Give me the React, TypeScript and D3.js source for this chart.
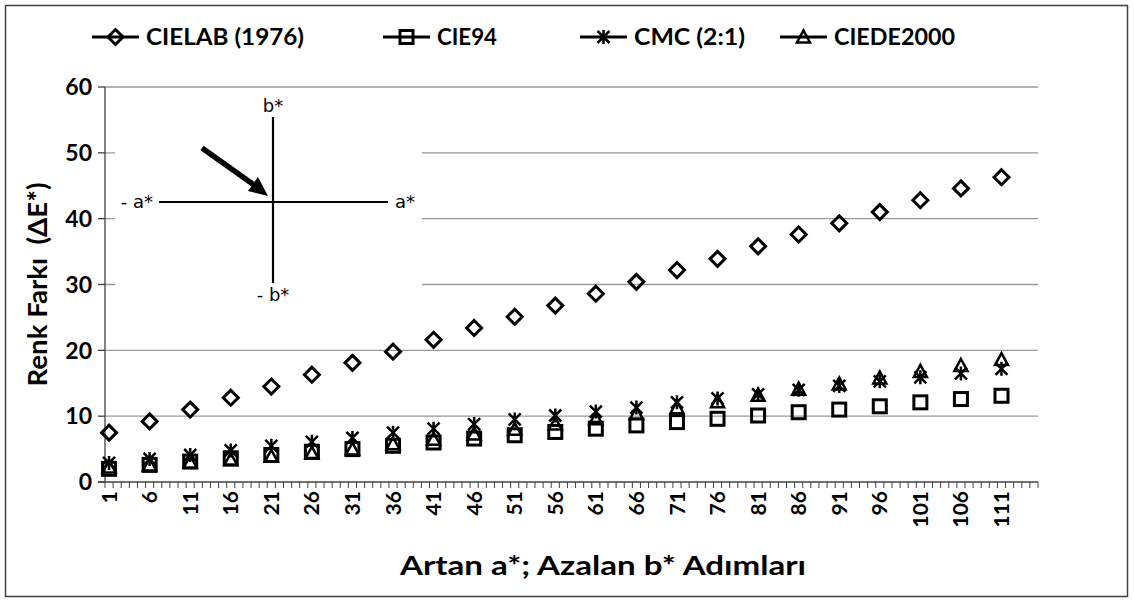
import * as d3 from "d3";

// step axis: 115 steps, labels every 5th step
const stepCount = 115;
const stepLabels = ["1", "6", "11", "16", "21", "26", "31", "36", "41", "46", "51", "56", "61", "66", "71", "76", "81", "86", "91", "96", "101", "106", "111"];
const sampledSteps = [1, 6, 11, 16, 21, 26, 31, 36, 41, 46, 51, 56, 61, 66, 71, 76, 81, 86, 91, 96, 101, 106, 111];
const yTicks = [0, 10, 20, 30, 40, 50, 60];

const cielab = [7.5, 9.2, 11.0, 12.8, 14.5, 16.3, 18.1, 19.8, 21.6, 23.4, 25.1, 26.8, 28.6, 30.4, 32.2, 33.9, 35.8, 37.6, 39.3, 41.0, 42.8, 44.6, 46.3];
const cie94 = [2.0, 2.6, 3.1, 3.6, 4.1, 4.6, 5.0, 5.5, 6.0, 6.6, 7.1, 7.6, 8.1, 8.6, 9.1, 9.6, 10.1, 10.6, 11.0, 11.5, 12.1, 12.6, 13.1];
const cmc = [2.9, 3.5, 4.1, 4.8, 5.5, 6.1, 6.7, 7.5, 8.1, 8.8, 9.5, 10.1, 10.7, 11.3, 12.1, 12.7, 13.3, 14.0, 14.6, 15.3, 15.9, 16.5, 17.2];
const ciede2000 = [2.3, 2.6, 3.0, 3.4, 3.9, 4.4, 5.0, 5.8, 6.5, 7.3, 8.0, 8.8, 9.6, 10.4, 11.3, 12.2, 13.2, 14.1, 14.9, 15.8, 16.8, 17.7, 18.6];

type Shape = "diamond" | "square" | "star" | "triangle";
const seriesNames = ["CIELAB (1976)", "CIE94", "CMC (2:1)", "CIEDE2000"];
const seriesShapes: Shape[] = ["diamond", "square", "star", "triangle"];
const seriesValues = [cielab, cie94, cmc, ciede2000];

const W = 1134;
const H = 601;
const plot = { left: 105, right: 1038, top: 87, bottom: 482 };
const labelFont = "Lato, 'Open Sans', sans-serif";

const Marker = ({ shape, x, y }: { shape: Shape; x: number; y: number }) => {
  const common = { fill: "none", stroke: "#000", strokeWidth: 3 };
  if (shape === "diamond") {
    const r = 7.5;
    return <path d={`M${x},${y - r}L${x + r},${y}L${x},${y + r}L${x - r},${y}Z`} {...common} />;
  }
  if (shape === "square") {
    const s = 6.5;
    return <rect x={x - s} y={y - s} width={s * 2} height={s * 2} {...common} />;
  }
  if (shape === "triangle") {
    const r = 6.5;
    return <path d={`M${x},${y - r}L${x + r},${y + r * 0.85}L${x - r},${y + r * 0.85}Z`} {...common} strokeWidth={2.5} />;
  }
  const r = 6;
  return (
    <path
      d={`M${x - r},${y - r}L${x + r},${y + r}M${x + r},${y - r}L${x - r},${y + r}M${x},${y - r - 1}L${x},${y + r + 1}`}
      {...common}
      strokeWidth={2.5}
    />
  );
};

export default function App() {
  const x = d3
    .scaleBand<number>()
    .domain(d3.range(1, stepCount + 1))
    .range([plot.left, plot.right]);
  const y = d3.scaleLinear().domain([0, 60]).range([plot.bottom, plot.top]);
  const cx = (s: number) => (x(s) ?? 0) + x.bandwidth() / 2;

  const boundaries = d3.range(0, stepCount + 1).map((i) => plot.left + i * x.bandwidth());

  // legend layout
  const legendX = [92, 383, 580, 780];
  const legendText = [158, 60, 111, 121];
  const legendY = 37;

  // inset (colour axes diagram)
  const inset = { cx: 273, cy: 202, left: 159, right: 388, top: 117, bottom: 283 };

  return (
    <svg width={W} height={H} style={{ position: "absolute", left: 0, top: 0, background: "#fff" }}>
      <rect x={5.5} y={5.5} width={1122} height={591} fill="#fff" stroke="#404040" strokeWidth={1.5} />

      {/* legend */}
      {seriesNames.map((name, i) => (
        <g key={name}>
          <line x1={legendX[i]} x2={legendX[i] + 47} y1={legendY} y2={legendY} stroke="#000" strokeWidth={3} />
          <Marker shape={seriesShapes[i]} x={legendX[i] + 23.5} y={legendY} />
          <text
            x={legendX[i] + 54}
            y={legendY}
            dy="0.36em"
            fontFamily={labelFont}
            fontWeight="bold"
            fontSize={23}
            textLength={legendText[i]}
            lengthAdjust="spacingAndGlyphs"
          >
            {name}
          </text>
        </g>
      ))}

      {/* grid */}
      {yTicks.filter((t) => t > 0).map((t) => (
        <line key={t} x1={plot.left} x2={plot.right} y1={y(t)} y2={y(t)} stroke="#9a9a9a" strokeWidth={1.3} />
      ))}

      {/* y axis */}
      <line x1={plot.left} x2={plot.left} y1={plot.top} y2={plot.bottom} stroke="#404040" strokeWidth={1.3} />
      {yTicks.map((t) => (
        <g key={t}>
          <line x1={plot.left - 7} x2={plot.left} y1={y(t)} y2={y(t)} stroke="#404040" strokeWidth={1.3} />
          <text
            x={plot.left - 13}
            y={y(t)}
            dy="0.36em"
            textAnchor="end"
            fontFamily={labelFont}
            fontWeight="bold"
            fontSize={23}
          >
            {t}
          </text>
        </g>
      ))}
      <text
        transform={`translate(37,${(plot.top + plot.bottom) / 2}) rotate(-90)`}
        textAnchor="middle"
        dy="0.36em"
        fontFamily={labelFont}
        fontWeight="bold"
        fontSize={27}
        textLength={204}
        lengthAdjust="spacingAndGlyphs"
        style={{ whiteSpace: "pre" }}
      >
        {"Renk Farkı  (ΔE*)"}
      </text>

      {/* x axis */}
      <line x1={plot.left - 7} x2={plot.right} y1={plot.bottom} y2={plot.bottom} stroke="#404040" strokeWidth={1.3} />
      {boundaries.map((b, i) => (
        <line key={i} x1={b} x2={b} y1={plot.bottom} y2={plot.bottom + 6} stroke="#404040" strokeWidth={1} />
      ))}
      {stepLabels.map((lab, i) => (
        <text
          key={lab}
          transform={`translate(${cx(sampledSteps[i])},${plot.bottom + 9}) rotate(-90)`}
          textAnchor="end"
          dy="0.36em"
          fontFamily={labelFont}
          fontWeight="bold"
          fontSize={21}
        >
          {lab}
        </text>
      ))}
      <text
        x={603}
        y={565}
        dy="0.36em"
        textAnchor="middle"
        fontFamily={labelFont}
        fontWeight="bold"
        fontSize={27}
        textLength={406}
        lengthAdjust="spacingAndGlyphs"
      >
        Artan a*; Azalan b* Adımları
      </text>

      {/* inset diagram */}
      <rect x={115} y={92} width={307} height={213} fill="#fff" />
      <line x1={inset.left} x2={inset.right} y1={inset.cy} y2={inset.cy} stroke="#000" strokeWidth={2.2} />
      <line x1={inset.cx} x2={inset.cx} y1={inset.top} y2={inset.bottom} stroke="#000" strokeWidth={2.2} />
      <g fontFamily="'DejaVu Sans', sans-serif" fontSize={18}>
        <text x={inset.cx} y={inset.top - 5} textAnchor="middle">b*</text>
        <text x={inset.cx} y={inset.bottom + 18} textAnchor="middle">- b*</text>
        <text x={inset.left - 6} y={inset.cy + 6} textAnchor="end">- a*</text>
        <text x={inset.right + 7} y={inset.cy + 6}>a*</text>
      </g>
      <line x1={202} y1={148} x2={257} y2={187} stroke="#000" strokeWidth={5.5} />
      <path d="M268,196 L248,191 L258,177 Z" fill="#000" />

      {/* series markers */}
      {seriesValues.map((vals, si) => (
        <g key={seriesNames[si]}>
          {vals.map((v, i) => (
            <Marker key={i} shape={seriesShapes[si]} x={cx(sampledSteps[i])} y={y(v)} />
          ))}
        </g>
      ))}
    </svg>
  );
}
